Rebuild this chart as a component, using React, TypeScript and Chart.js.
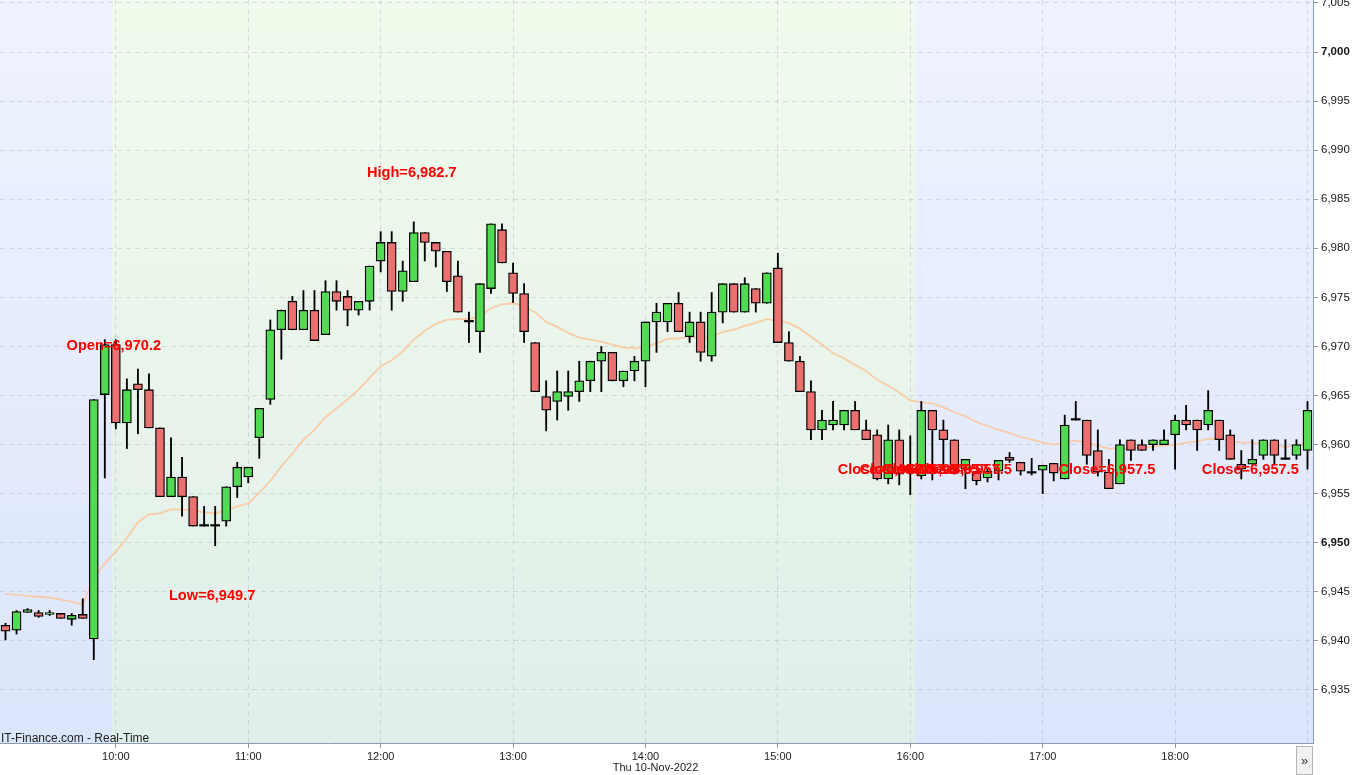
import { useEffect, useRef } from 'react';
import { Chart, registerables } from 'chart.js';

Chart.register(...registerables);

const times: string[] = [
  '09:10','09:15','09:20','09:25','09:30','09:35','09:40','09:45','09:50','09:55',
  '10:00','10:05','10:10','10:15','10:20','10:25','10:30','10:35','10:40','10:45','10:50','10:55',
  '11:00','11:05','11:10','11:15','11:20','11:25','11:30','11:35','11:40','11:45','11:50','11:55',
  '12:00','12:05','12:10','12:15','12:20','12:25','12:30','12:35','12:40','12:45','12:50','12:55',
  '13:00','13:05','13:10','13:15','13:20','13:25','13:30','13:35','13:40','13:45','13:50','13:55',
  '14:00','14:05','14:10','14:15','14:20','14:25','14:30','14:35','14:40','14:45','14:50','14:55',
  '15:00','15:05','15:10','15:15','15:20','15:25','15:30','15:35','15:40','15:45','15:50','15:55',
  '16:00','16:05','16:10','16:15','16:20','16:25','16:30','16:35','16:40','16:45','16:50','16:55',
  '17:00','17:05','17:10','17:15','17:20','17:25','17:30','17:35','17:40','17:45','17:50','17:55',
  '18:00','18:05','18:10','18:15','18:20','18:25','18:30','18:35','18:40','18:45','18:50','18:55',
  '19:00',
];

const hourLabels: string[] = ['10:00', '11:00', '12:00', '13:00', '14:00', '15:00', '16:00', '17:00', '18:00'];

const opens: number[] = [
  6941.6, 6941.1, 6942.9, 6942.9, 6942.7, 6942.8, 6942.2, 6942.7, 6940.2, 6965.1,
  6970.2, 6962.2, 6966.2, 6965.6, 6961.7, 6954.7, 6956.7, 6954.7, 6951.7, 6951.7, 6952.2, 6955.7,
  6956.7, 6960.7, 6964.6, 6971.7, 6974.6, 6971.7, 6973.7, 6971.2, 6975.6, 6975.1, 6973.7, 6974.6,
  6978.7, 6980.6, 6975.6, 6976.6, 6981.6, 6980.6, 6979.7, 6977.2, 6972.5, 6971.5, 6975.9, 6981.9,
  6977.5, 6975.4, 6970.4, 6964.9, 6964.4, 6964.9, 6965.4, 6966.5, 6968.5, 6969.4, 6966.5, 6967.5,
  6968.5, 6972.5, 6972.5, 6974.4, 6971.0, 6972.5, 6969.0, 6973.5, 6976.4, 6973.5, 6975.9, 6974.4,
  6978.0, 6970.4, 6968.5, 6965.4, 6961.5, 6962.0, 6962.0, 6963.5, 6961.5, 6961.0, 6956.5, 6960.5,
  6957.2, 6956.8, 6963.5, 6961.5, 6960.5, 6957.5, 6957.3, 6956.6, 6957.3, 6958.7, 6958.2, 6957.1,
  6957.4, 6958.1, 6956.5, 6962.5, 6962.5, 6959.4, 6957.2, 6956.0, 6960.5, 6960.0, 6960.0, 6960.0,
  6961.0, 6962.5, 6962.5, 6962.0, 6962.5, 6961.0, 6958.0, 6958.0, 6958.9, 6960.5, 6958.5, 6958.9,
  6959.4,
];

const highs: number[] = [
  6941.8, 6943.1, 6943.3, 6943.1, 6943.1, 6942.8, 6942.8, 6944.3, 6964.6, 6970.7,
  6970.7, 6966.7, 6967.7, 6967.2, 6961.7, 6960.7, 6958.7, 6954.7, 6953.7, 6953.7, 6955.7, 6958.2,
  6957.7, 6963.7, 6972.7, 6973.7, 6975.1, 6975.7, 6975.7, 6976.7, 6976.7, 6975.7, 6974.6, 6978.2,
  6981.7, 6981.7, 6978.7, 6982.7, 6981.6, 6980.6, 6979.7, 6978.7, 6973.5, 6976.4, 6982.5, 6982.5,
  6978.5, 6976.4, 6970.4, 6966.5, 6967.5, 6967.5, 6968.5, 6968.5, 6970.0, 6969.4, 6967.5, 6969.0,
  6972.5, 6974.4, 6974.4, 6975.5, 6973.5, 6973.5, 6975.5, 6976.4, 6976.4, 6977.0, 6975.9, 6977.5,
  6979.5, 6971.5, 6969.0, 6966.5, 6963.5, 6964.4, 6963.5, 6964.4, 6962.5, 6961.5, 6962.0, 6961.5,
  6960.9, 6964.4, 6963.5, 6962.5, 6960.5, 6958.5, 6957.3, 6957.5, 6958.4, 6959.2, 6958.2, 6958.6,
  6957.9, 6958.1, 6963.0, 6964.4, 6962.5, 6961.5, 6958.5, 6960.5, 6960.5, 6960.5, 6960.5, 6961.5,
  6963.0, 6964.0, 6962.5, 6965.5, 6962.5, 6961.5, 6959.4, 6960.5, 6960.5, 6960.5, 6960.5, 6960.5,
  6964.4,
];

const lows: number[] = [
  6940.1, 6940.7, 6942.9, 6942.4, 6942.6, 6942.3, 6941.6, 6942.3, 6938.1, 6956.6,
  6961.6, 6959.6, 6961.1, 6961.7, 6954.7, 6954.7, 6952.7, 6951.7, 6951.7, 6949.7, 6951.7, 6954.6,
  6956.1, 6958.6, 6964.1, 6968.7, 6971.7, 6971.7, 6970.6, 6971.2, 6973.7, 6972.1, 6973.2, 6973.7,
  6977.6, 6973.7, 6974.6, 6976.6, 6978.7, 6978.1, 6975.6, 6973.5, 6970.4, 6969.4, 6975.4, 6978.5,
  6974.5, 6970.4, 6965.4, 6961.4, 6962.5, 6963.5, 6964.4, 6965.4, 6965.4, 6966.5, 6965.9, 6966.5,
  6965.9, 6969.4, 6971.5, 6971.5, 6970.4, 6968.5, 6968.5, 6972.4, 6973.5, 6973.5, 6973.5, 6974.4,
  6970.4, 6968.5, 6965.4, 6960.5, 6960.5, 6961.5, 6961.5, 6961.5, 6960.5, 6956.4, 6956.0, 6955.9,
  6954.9, 6956.5, 6956.4, 6957.4, 6957.0, 6955.5, 6955.9, 6956.2, 6956.4, 6958.2, 6956.9, 6956.9,
  6955.0, 6956.3, 6956.5, 6962.5, 6958.0, 6956.8, 6955.5, 6956.0, 6958.4, 6959.4, 6959.4, 6960.0,
  6957.5, 6961.5, 6959.4, 6961.5, 6959.4, 6958.5, 6956.5, 6958.0, 6958.5, 6958.0, 6958.5, 6958.5,
  6957.5,
];

const closes: number[] = [
  6941.0, 6943.0, 6943.2, 6942.5, 6942.9, 6942.3, 6942.6, 6942.3, 6964.6, 6970.2,
  6962.2, 6965.6, 6965.6, 6961.7, 6954.7, 6956.7, 6954.7, 6951.7, 6951.7, 6951.7, 6955.7, 6957.7,
  6957.7, 6963.7, 6971.7, 6973.7, 6971.7, 6973.7, 6970.6, 6975.6, 6974.6, 6973.7, 6974.6, 6978.2,
  6980.6, 6975.6, 6977.7, 6981.6, 6980.6, 6979.7, 6976.6, 6973.5, 6972.5, 6976.4, 6982.5, 6978.5,
  6975.4, 6971.5, 6965.4, 6963.5, 6965.4, 6965.4, 6966.5, 6968.5, 6969.4, 6966.5, 6967.5, 6968.5,
  6972.5, 6973.5, 6974.4, 6971.5, 6972.5, 6969.4, 6973.5, 6976.4, 6973.5, 6976.4, 6974.4, 6977.5,
  6970.4, 6968.5, 6965.4, 6961.5, 6962.5, 6962.5, 6963.5, 6961.5, 6960.5, 6956.5, 6960.5, 6957.0,
  6957.5, 6963.5, 6961.5, 6960.5, 6957.5, 6958.5, 6956.3, 6957.3, 6958.4, 6958.4, 6957.3, 6957.1,
  6957.9, 6957.1, 6962.0, 6962.5, 6958.9, 6957.2, 6955.5, 6960.0, 6959.4, 6959.4, 6960.5, 6960.5,
  6962.5, 6962.0, 6961.5, 6963.5, 6960.5, 6958.5, 6957.5, 6958.5, 6960.5, 6958.9, 6958.5, 6960.0,
  6963.5,
];

const movingAverage: number[] = [
  6944.8, 6944.7, 6944.6, 6944.5, 6944.4, 6944.2, 6944.0, 6943.7, 6946.4, 6947.9,
  6949.1, 6950.5, 6952.1, 6952.9, 6953.0, 6953.4, 6953.4, 6953.3, 6953.1, 6953.0, 6953.3, 6953.7,
  6954.0, 6955.1, 6956.3, 6957.8, 6959.1, 6960.5, 6961.5, 6962.8, 6963.7, 6964.6, 6965.6, 6966.8,
  6968.0, 6968.6, 6969.5, 6970.7, 6971.6, 6972.3, 6972.7, 6972.8, 6972.8, 6973.1, 6973.9, 6974.3,
  6974.4, 6974.1, 6973.5, 6972.5, 6972.0, 6971.4, 6970.9, 6970.7, 6970.5, 6970.2, 6969.9, 6969.8,
  6970.0, 6970.3, 6970.8, 6970.8, 6971.0, 6970.8, 6971.0, 6971.5, 6971.7, 6972.1, 6972.4, 6972.8,
  6972.6, 6972.4, 6971.8, 6971.0, 6970.2, 6969.3, 6968.8, 6968.1, 6967.5, 6966.6, 6966.0, 6965.3,
  6964.5, 6964.3, 6964.2, 6963.8, 6963.3, 6962.9, 6962.3, 6961.9, 6961.5, 6961.2, 6960.8, 6960.5,
  6960.2, 6960.0, 6960.2, 6960.4, 6960.2, 6959.9, 6959.6, 6959.6, 6959.7, 6959.7, 6959.8, 6959.9,
  6960.0, 6960.2, 6960.3, 6960.6, 6960.6, 6960.4, 6960.2, 6960.2, 6960.0, 6959.9, 6959.8, 6959.9,
  6960.2,
];

const openLabel = { index: 10, value: 6970.2, text: 'Open=6,970.2' };
const highLabel = { index: 37, value: 6982.7, text: 'High=6,982.7' };
const lowLabel = { index: 19, value: 6949.7, text: 'Low=6,949.7' };
const closeValue = 6957.5;
const closeText = 'Close=6,957.5';
const closeLabelIndexes: number[] = [80, 82, 84, 86, 87, 100, 113];

const yMin = 6929.6;
const yMax = 7005.3;
const yLabelMin = 6935;
const sessionStart = 9.65;
const sessionEnd = 82.45;
const dateLabel = 'Thu 10-Nov-2022';
const watermark = 'IT-Finance.com - Real-Time';

const FONT = 'Arial, "Liberation Sans", sans-serif';
const GRID = 'rgba(150,162,180,0.32)';
const AXIS = '#8a9bb0';

const isHour = (i: number) => hourLabels.includes(times[i]);

const backgroundPlugin = {
  id: 'bgPlugin',
  beforeDraw(chart: any) {
    const { ctx, chartArea, scales } = chart;
    const { left, right, top, bottom } = chartArea;
    ctx.save();
    ctx.fillStyle = '#ffffff';
    ctx.fillRect(0, 0, chart.width, chart.height);
    const gb = ctx.createLinearGradient(0, top, 0, bottom);
    gb.addColorStop(0, '#eff3fe');
    gb.addColorStop(1, '#dbe5fb');
    ctx.fillStyle = gb;
    ctx.fillRect(left, top, right - left, bottom - top);
    const x0 = scales.x.getPixelForValue(sessionStart);
    const x1 = scales.x.getPixelForValue(sessionEnd);
    const gg = ctx.createLinearGradient(0, top, 0, bottom);
    gg.addColorStop(0, '#f1fbec');
    gg.addColorStop(1, '#e1efea');
    ctx.fillStyle = gg;
    ctx.fillRect(x0, top, x1 - x0, bottom - top);
    ctx.restore();
  },
  afterDatasetsDraw(chart: any) {
    const { ctx, scales, chartArea } = chart;
    const xs = scales.x;
    const ys = scales.y;
    ctx.save();
    ctx.font = `bold 14.6px ${FONT}`;
    ctx.fillStyle = '#ff0000';
    ctx.textAlign = 'center';
    ctx.textBaseline = 'middle';
    ctx.fillText(openLabel.text, xs.getPixelForValue(openLabel.index) - 2, ys.getPixelForValue(openLabel.value) + 1);
    ctx.fillText(highLabel.text, xs.getPixelForValue(highLabel.index) - 2, ys.getPixelForValue(highLabel.value) - 49);
    ctx.fillText(lowLabel.text, xs.getPixelForValue(lowLabel.index) - 3, ys.getPixelForValue(lowLabel.value) + 50);
    closeLabelIndexes.forEach((i) => {
      ctx.fillText(closeText, xs.getPixelForValue(i) - 2, ys.getPixelForValue(closeValue) + 1);
    });
    ctx.font = `12px ${FONT}`;
    ctx.fillStyle = '#222222';
    ctx.textAlign = 'left';
    ctx.textBaseline = 'alphabetic';
    ctx.fillText(watermark, chartArea.left + 1, chartArea.bottom - 1);
    ctx.restore();
  },
  afterDraw(chart: any) {
    const { ctx, scales, chartArea } = chart;
    ctx.save();
    ctx.font = `11px ${FONT}`;
    ctx.fillStyle = '#222222';
    ctx.textAlign = 'center';
    ctx.textBaseline = 'middle';
    ctx.fillText(dateLabel, scales.x.getPixelForValue(times.indexOf('14:00')) + 10, chartArea.bottom + 25);
    const bx = chartArea.right - 17;
    const by = chartArea.bottom + 3;
    ctx.fillStyle = '#f2f2f2';
    ctx.fillRect(bx, by, 17, chart.height - by);
    ctx.strokeStyle = '#b5b5b5';
    ctx.lineWidth = 1;
    ctx.strokeRect(bx + 0.5, by + 0.5, 16, chart.height - by - 1);
    ctx.fillStyle = '#333333';
    ctx.font = `13px ${FONT}`;
    ctx.fillText('\u00bb', bx + 8.5, by + 15);
    ctx.restore();
  },
};

export default function App() {
  const canvasRef = useRef<HTMLCanvasElement | null>(null);

  useEffect(() => {
    const canvas = canvasRef.current;
    if (!canvas) return;
    const up = closes.map((c, i) => c >= opens[i]);
    const doji = closes.map((c, i) => Math.abs(c - opens[i]) < 0.05);
    const chart = new Chart(canvas, {
      type: 'bar',
      data: {
        labels: times,
        datasets: [
          {
            type: 'bar',
            label: 'body',
            data: opens.map((o, i) => [o, closes[i]]) as any,
            backgroundColor: up.map((u, i) => (doji[i] ? '#000000' : u ? '#52da52' : '#eb7070')),
            borderColor: '#000000',
            borderWidth: doji.map((d) => (d ? 0 : 1.3)),
            borderSkipped: false,
            barThickness: 9,
            minBarLength: 1.5,
            grouped: false,
            order: 0,
          } as any,
          {
            type: 'bar',
            label: 'wick',
            data: lows.map((l, i) => [l, highs[i]]) as any,
            backgroundColor: '#000000',
            borderWidth: 0,
            barThickness: 1.2,
            grouped: false,
            order: 1,
          } as any,
          {
            type: 'line',
            label: 'ma',
            data: movingAverage,
            borderColor: 'rgba(251, 200, 158, 0.9)',
            borderWidth: 1.8,
            pointRadius: 0,
            tension: 0,
            order: 2,
          } as any,
        ],
      },
      options: {
        responsive: false,
        animation: false,
        devicePixelRatio: 1,
        layout: { padding: 0 },
        plugins: {
          legend: { display: false },
          tooltip: { enabled: false },
          title: { display: false },
        },
        scales: {
          x: {
            type: 'category',
            offset: true,
            grid: {
              offset: false,
              color: (ctx: any) => (isHour(ctx.index) || ctx.index === times.length - 1 ? GRID : 'rgba(0,0,0,0)'),
              tickColor: (ctx: any) => (isHour(ctx.index) ? AXIS : 'rgba(0,0,0,0)'),
              tickLength: 5,
              lineWidth: 1,
            },
            border: { display: true, color: AXIS, width: 1, dash: [5, 4] },
            ticks: {
              autoSkip: false,
              maxRotation: 0,
              minRotation: 0,
              padding: 2,
              color: '#222222',
              font: { size: 11, family: FONT },
              callback: (_v: any, i: number) => (isHour(i) ? times[i] : ''),
            },
            afterFit: (scale: any) => {
              scale.height = 32;
              scale.paddingLeft = 0;
              scale.paddingRight = 0;
            },
          },
          y: {
            type: 'linear',
            position: 'right',
            min: yMin,
            max: yMax,
            grid: {
              color: (ctx: any) => (ctx.tick && ctx.tick.value < yLabelMin ? 'rgba(0,0,0,0)' : GRID),
              tickColor: (ctx: any) => (ctx.tick && ctx.tick.value < yLabelMin ? 'rgba(0,0,0,0)' : AXIS),
              tickLength: 5,
              lineWidth: 1,
            },
            border: { display: true, color: AXIS, width: 1, dash: [5, 4] },
            ticks: {
              stepSize: 5,
              includeBounds: false,
              padding: 3,
              color: '#151515',
              font: (ctx: any) => ({
                size: 11.5,
                family: FONT,
                weight: ctx.tick && Math.round(ctx.tick.value) % 50 === 0 ? 'bold' : 'normal',
              }),
              callback: (v: any) => (Number(v) < yLabelMin ? '' : Number(v).toLocaleString('en-US')),
            },
            afterFit: (scale: any) => {
              scale.width = 47;
              scale.paddingTop = 0;
              scale.paddingBottom = 0;
            },
          },
        },
      } as any,
      plugins: [backgroundPlugin],
    });
    return () => chart.destroy();
  }, []);

  return (
    <div style={{ position: 'fixed', left: 0, top: 0, width: 1360, height: 775, background: '#fff' }}>
      <canvas ref={canvasRef} width={1360} height={775} style={{ display: 'block' }} />
    </div>
  );
}
